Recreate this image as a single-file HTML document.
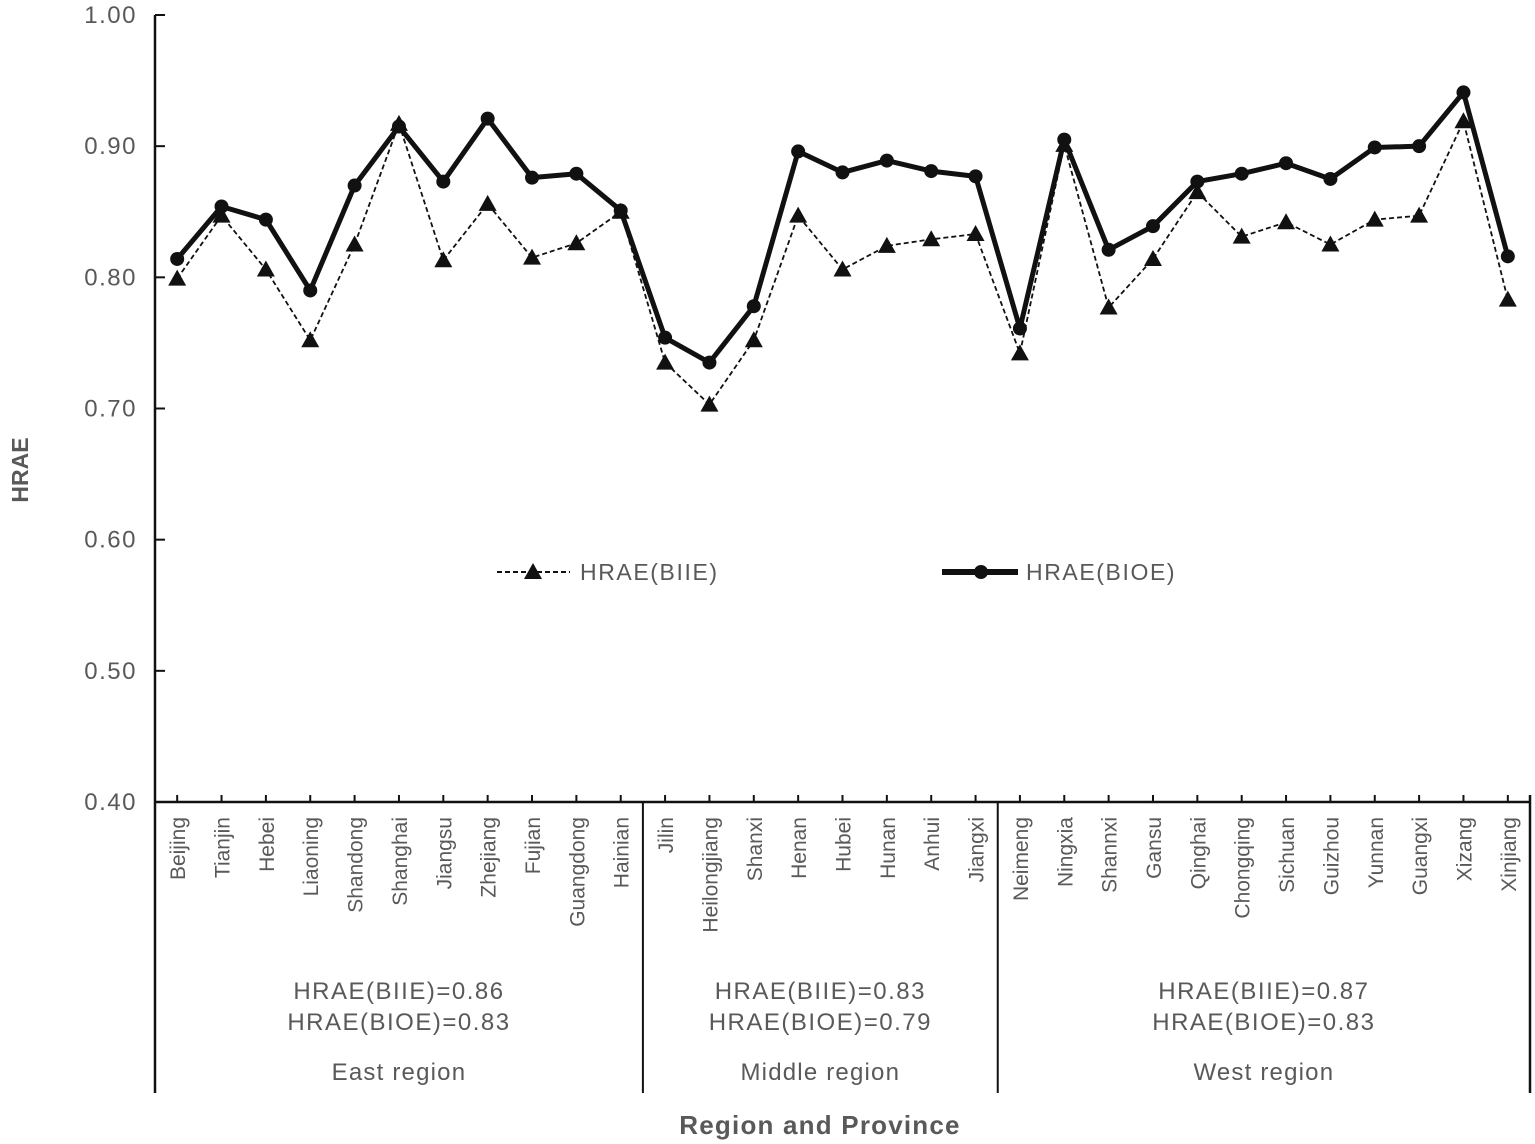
<!DOCTYPE html>
<html><head><meta charset="utf-8"><style>
body{margin:0;background:#fff}
svg{display:block;font-family:"Liberation Sans",sans-serif}
</style></head><body>
<svg id="chart" width="1535" height="1144" viewBox="0 0 1535 1144" xmlns="http://www.w3.org/2000/svg">
<g id="axes"></g>
<g id="marks"></g>
<g id="legend">
  <g>
    <line x1="497" y1="572" x2="570" y2="572" stroke="#111" stroke-width="2" stroke-dasharray="5,3"/>
    <polygon points="533,563 542,579 524,579" fill="#111"/>
    <text x="580" y="580" font-size="23" letter-spacing="1.6" fill="#595959">HRAE(BIIE)</text>
  </g>
  <g>
    <line x1="942" y1="572" x2="1018" y2="572" stroke="#111" stroke-width="6"/>
    <circle cx="981" cy="572" r="7" fill="#111"/>
    <text x="1026" y="580" font-size="23" letter-spacing="1.6" fill="#595959">HRAE(BIOE)</text>
  </g>
</g>
<text transform="translate(28,470) rotate(-90)" text-anchor="middle" font-size="23" font-weight="bold" fill="#595959">HRAE</text>
<text x="820" y="1134" text-anchor="middle" font-size="26" letter-spacing="1.2" font-weight="bold" fill="#595959">Region and Province</text>
</svg>
<script>
const provinces=["Beijing","Tianjin","Hebei","Liaoning","Shandong","Shanghai","Jiangsu","Zhejiang","Fujian","Guangdong","Hainian","Jilin","Heilongjiang","Shanxi","Henan","Hubei","Hunan","Anhui","Jiangxi","Neimeng","Ningxia","Shannxi","Gansu","Qinghai","Chongqing","Sichuan","Guizhou","Yunnan","Guangxi","Xizang","Xinjiang"];
const biie=[0.799,0.847,0.806,0.752,0.825,0.917,0.813,0.856,0.815,0.826,0.850,0.735,0.703,0.752,0.847,0.806,0.824,0.829,0.833,0.742,0.901,0.777,0.814,0.865,0.831,0.842,0.825,0.844,0.847,0.919,0.783];
const bioe=[0.814,0.854,0.844,0.790,0.870,0.915,0.873,0.921,0.876,0.879,0.851,0.754,0.735,0.778,0.896,0.880,0.889,0.881,0.877,0.761,0.905,0.821,0.839,0.873,0.879,0.887,0.875,0.899,0.900,0.941,0.816];
const yTicks=[0.40,0.50,0.60,0.70,0.80,0.90,1.00];
const regionNames=["East region","Middle region","West region"];
const regionBIIE=["0.86","0.83","0.87"];
const regionBIOE=["0.83","0.79","0.83"];
const regionCounts=[11,8,12];

const NS="http://www.w3.org/2000/svg";
const X0=155,X1=1530,Y0=802,Y1=15;
const band=(X1-X0)/provinces.length;
const xs=i=>X0+band*(i+0.5);
const ys=v=>Y0-(v-0.4)/0.6*(Y0-Y1);
function mk(p,tag,at,txt){const e=document.createElementNS(NS,tag);for(const k in at)e.setAttribute(k,at[k]);if(txt!==undefined)e.textContent=txt;p.appendChild(e);return e;}
const ax=document.getElementById('axes'),mg=document.getElementById('marks');
let e;
e=mk(ax,'line',{x1:X0,y1:Y1,x2:X0,y2:1093,stroke:'#111','stroke-width':2.5});


e=mk(ax,'line',{x1:X0,y1:Y0,x2:X1,y2:Y0,stroke:'#111','stroke-width':2.5});


e=mk(ax,'line',{x1:X1,y1:Y0-7,x2:X1,y2:1093,stroke:'#111','stroke-width':2.5});


yTicks.forEach(t=>{
  mk(ax,'line',{x1:X0,y1:ys(t),x2:X0+10,y2:ys(t),stroke:'#111','stroke-width':2});
  e=mk(ax,'text',{x:137,y:ys(t)+8,'text-anchor':'end','font-size':24,'letter-spacing':1.5,fill:'#595959'},t.toFixed(2));
  
  
});
provinces.forEach((p,i)=>{
  mk(ax,'line',{x1:xs(i),y1:Y0,x2:xs(i),y2:Y0-7,stroke:'#111','stroke-width':2});
  e=mk(ax,'text',{transform:`translate(${xs(i)+8},817) rotate(-90)`,'text-anchor':'end','font-size':21,fill:'#595959'},p);
  
  
});
let start=0;
regionCounts.forEach((c,r)=>{
  const a=X0+band*start,b=X0+band*(start+c),m=(a+b)/2;
  if(r>0){e=mk(ax,'line',{x1:a,y1:Y0,x2:a,y2:1093,stroke:'#111','stroke-width':2});
    
    }
  e=mk(ax,'text',{x:m,y:999,'text-anchor':'middle','font-size':24,'letter-spacing':1.5,fill:'#595959'},'HRAE(BIIE)='+regionBIIE[r]);
  
  
  e=mk(ax,'text',{x:m,y:1030,'text-anchor':'middle','font-size':24,'letter-spacing':1.5,fill:'#595959'},'HRAE(BIOE)='+regionBIOE[r]);
  
  
  e=mk(ax,'text',{x:m,y:1080,'text-anchor':'middle','font-size':24,'letter-spacing':1.2,fill:'#595959'},regionNames[r]);
  
  
  start+=c;
});
e=mk(mg,'polyline',{points:bioe.map((v,i)=>xs(i)+','+ys(v)).join(' '),fill:'none',stroke:'#111','stroke-width':5,'stroke-linejoin':'round'});


e=mk(mg,'polyline',{points:biie.map((v,i)=>xs(i)+','+ys(v)).join(' '),fill:'none',stroke:'#111','stroke-width':1.8,'stroke-dasharray':'5,3'});


biie.forEach((v,i)=>{const x=xs(i),y=ys(v);
  e=mk(mg,'polygon',{points:`${x},${y-9} ${x+9},${y+7} ${x-9},${y+7}`,fill:'#111'});
  
  
});
bioe.forEach((v,i)=>{
  e=mk(mg,'circle',{cx:xs(i),cy:ys(v),r:7,fill:'#111'});
  
  
});
</script>
</body></html>
